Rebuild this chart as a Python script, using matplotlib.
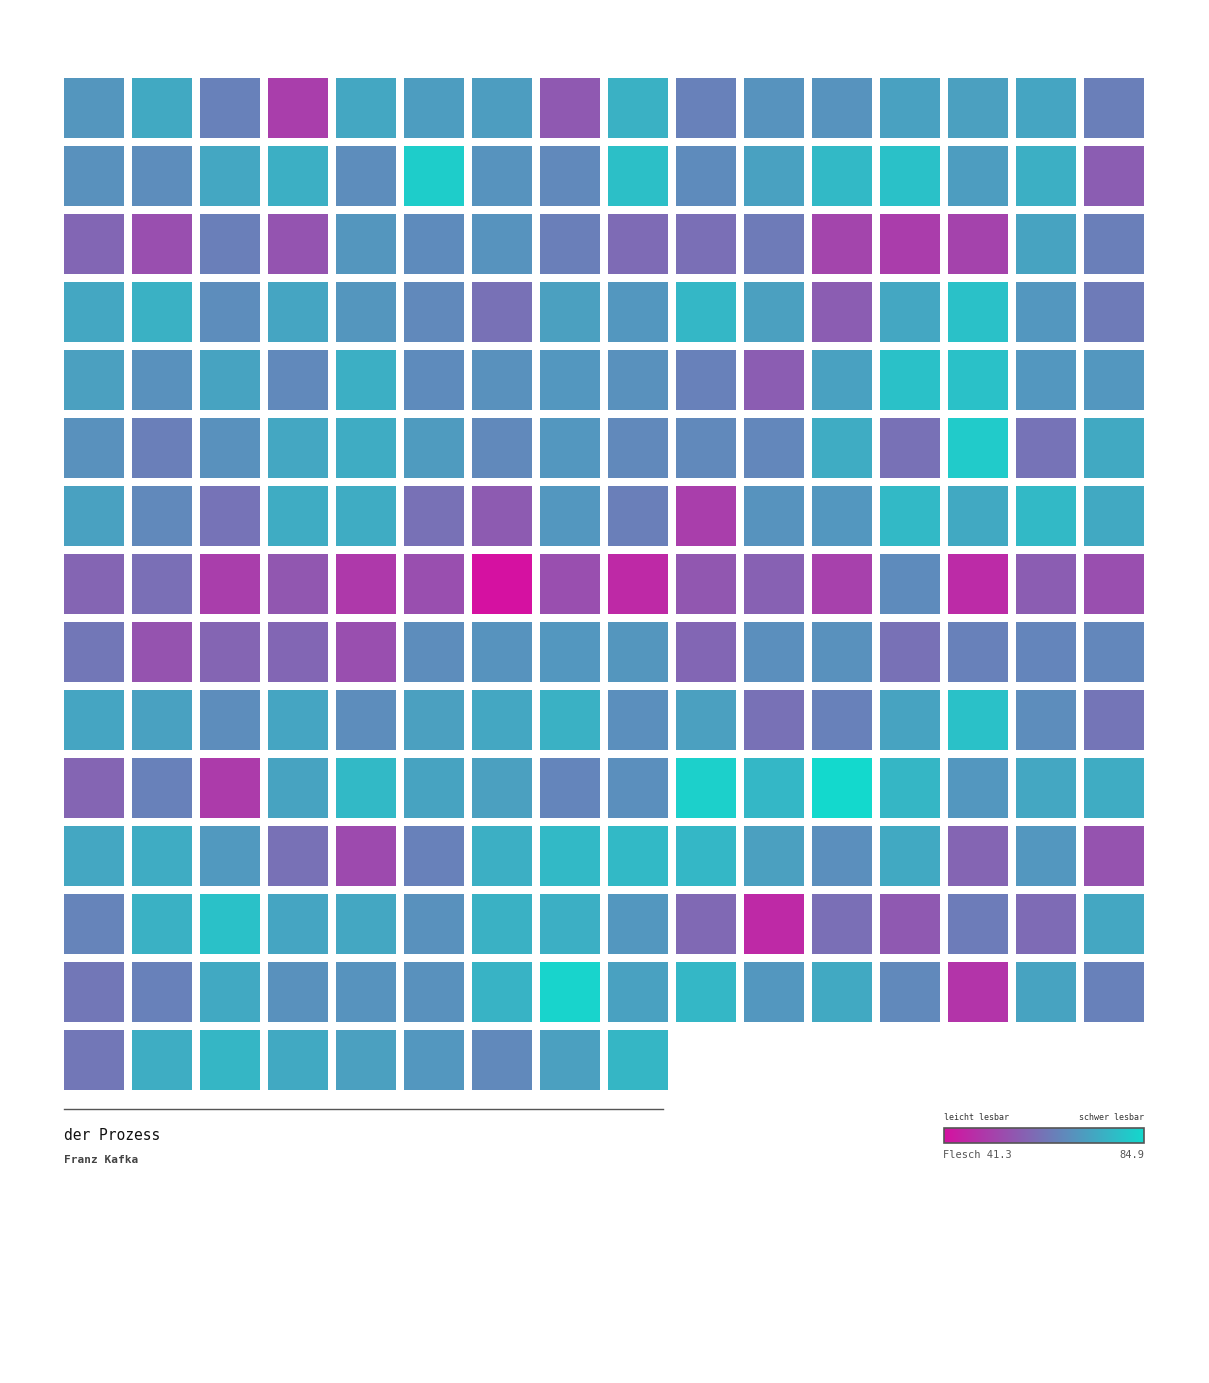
import matplotlib
matplotlib.use('Agg')
import matplotlib.pyplot as plt
from matplotlib.patches import Rectangle
from matplotlib.colors import LinearSegmentedColormap, Normalize
import numpy as np

# Flesch reading ease per text block, read row by row (16 per row)
flesch = [
    70.1, 74.4, 65.7, 51.3, 74.0, 71.8, 71.8, 57.0, 76.2, 65.7, 69.6, 69.6, 72.7, 72.3, 73.6, 65.3,
    69.2, 68.3, 74.0, 75.7, 68.3, 82.3, 69.6, 67.5, 79.2, 67.9, 72.7, 77.9, 79.7, 71.8, 75.7, 57.9,
    60.0, 54.8, 65.3, 56.1, 70.1, 67.9, 69.6, 65.3, 60.9, 61.8, 64.4, 52.6, 50.9, 52.2, 73.1, 65.3,
    74.0, 76.2, 68.3, 73.6, 70.1, 67.5, 62.2, 72.3, 70.5, 77.5, 72.3, 57.9, 74.0, 79.7, 70.5, 64.4,
    72.3, 69.2, 73.1, 67.5, 75.7, 67.9, 69.2, 70.5, 69.2, 65.7, 57.9, 72.7, 79.7, 79.7, 70.5, 70.5,
    69.2, 65.3, 69.2, 74.0, 74.9, 71.4, 67.5, 70.5, 67.5, 67.5, 67.0, 74.9, 62.2, 81.8, 62.7, 74.4,
    72.7, 67.5, 62.7, 74.9, 74.9, 62.2, 57.4, 70.5, 65.3, 51.3, 69.6, 70.5, 77.9, 74.4, 77.9, 74.4,
    59.6, 61.8, 51.3, 56.6, 50.0, 54.8, 41.3, 54.8, 46.5, 56.6, 58.7, 51.8, 67.9, 47.0, 57.9, 54.8,
    63.5, 55.7, 59.6, 60.0, 54.8, 68.3, 69.6, 70.5, 70.1, 60.0, 68.8, 69.2, 62.2, 65.7, 66.6, 67.0,
    73.6, 72.7, 68.3, 73.6, 68.3, 72.3, 74.0, 76.2, 68.8, 72.3, 62.2, 65.7, 73.1, 79.7, 68.3, 63.1,
    59.6, 65.7, 50.5, 73.1, 77.9, 73.1, 72.3, 66.6, 68.8, 82.7, 77.5, 84.9, 77.1, 70.5, 74.0, 74.9,
    74.0, 74.9, 70.9, 62.2, 53.9, 65.7, 75.7, 77.9, 77.9, 77.5, 72.3, 68.8, 74.4, 59.6, 70.5, 55.7,
    66.2, 76.2, 79.7, 73.6, 74.0, 69.2, 76.2, 75.7, 70.5, 60.5, 46.5, 61.8, 57.0, 64.8, 60.9, 74.0,
    63.5, 65.7, 74.4, 69.2, 69.6, 69.2, 76.6, 83.6, 72.7, 77.5, 70.5, 74.4, 67.5, 49.1, 73.1, 65.7,
    63.5, 75.3, 77.1, 74.4, 72.3, 70.5, 67.5, 72.3, 77.1,
]
score_min = 41.3
score_max = 84.9
book_title = 'der Prozess'
book_author = 'Franz Kafka'
legend_left = 'leicht lesbar'
legend_right = 'schwer lesbar'

# ---------------- layout (pixels) ----------------
W, H = 1209, 1383
ncols = 16
x0, y0 = 64, 78
cell, step = 60, 68
mono = ['DejaVu Sans Mono']

cmap = LinearSegmentedColormap.from_list('flesch', ['#d511a1', '#13d9cd'])
norm = Normalize(vmin=score_min, vmax=score_max)

fig = plt.figure(figsize=(W / 100, H / 100), dpi=100)
ax = fig.add_axes([0, 0, 1, 1])
ax.set_xlim(0, W)
ax.set_ylim(H, 0)
ax.axis('off')

for i, v in enumerate(flesch):
    r, c = divmod(i, ncols)
    ax.add_patch(Rectangle((x0 + c * step, y0 + r * step), cell, cell,
                           facecolor=cmap(norm(v)), edgecolor='none'))

# separator line and titles
ax.plot([64, 663], [1108.5, 1108.5], color='#555555', lw=1)
ax.text(64, 1136, book_title, family=mono, fontsize=10.5, color='#111111', va='center', ha='left')
ax.text(64, 1160, book_author, family=mono, fontsize=8, fontweight='bold', color='#444444',
        va='center', ha='left')

# legend gradient
lx0, lx1, ly0, ly1 = 944, 1144, 1128, 1143
grad = np.linspace(score_min, score_max, 256).reshape(1, -1)
ax.imshow(grad, cmap=cmap, norm=norm, extent=[lx0, lx1, ly1, ly0], aspect='auto', zorder=2)
ax.add_patch(Rectangle((lx0, ly0), lx1 - lx0, ly1 - ly0, facecolor='none',
                       edgecolor='#555555', lw=1.2, zorder=3))
ax.set_xlim(0, W)
ax.set_ylim(H, 0)
ax.text(lx0, 1118, legend_left, family=mono, fontsize=6, color='#333333', va='center', ha='left')
ax.text(lx1, 1118, legend_right, family=mono, fontsize=6, color='#333333', va='center', ha='right')
ax.text(lx0 - 1, 1155, f'Flesch {score_min}', family=mono, fontsize=7.5, color='#555555',
        va='center', ha='left')
ax.text(lx1, 1155, f'{score_max}', family=mono, fontsize=7.5, color='#555555',
        va='center', ha='right')

fig.savefig('out.png', dpi=100, facecolor='white')
